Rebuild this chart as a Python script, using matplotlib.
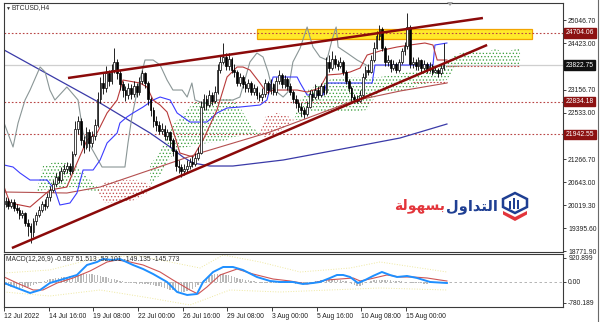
import numpy as np
import matplotlib.pyplot as plt
from matplotlib.patches import Rectangle, Polygon
from matplotlib.lines import Line2D

plt.rcParams['font.family'] = ['Liberation Sans', 'DejaVu Sans']
plt.rcParams['hatch.linewidth'] = 0.55

# ---- BTCUSD H4 candles (bar 0 = 12 Jul 2022 00:00, weekends skipped)
first_open = 20050
close = [20150, 20000, 20100, 19950, 19900, 19750, 19800, 19550, 19450, 19300,
         19600, 19750, 19900, 20050, 20000, 20250, 20450, 20600, 20800, 20700,
         20950, 21000, 21100, 20950, 21400, 22100, 22300, 21800, 21600, 22000,
         21700, 21900, 22200, 22900, 23350, 23200, 23600, 23400, 23700, 23900,
         23600, 23300, 23150, 23000, 23200, 23050, 23250, 23100, 23400, 23600,
         23350, 22900, 22600, 22300, 22200, 22050, 22100, 21900, 22000, 21800,
         21500, 21100, 21050, 20950, 21000, 21100, 21200, 21150, 21300, 21450,
         22700, 22900, 22750, 23000, 22850, 23100, 23700, 23900, 24050, 23800,
         24000, 23700, 23650, 23350, 23500, 23300, 23200, 23350, 23100, 23200,
         23000, 22950, 23050, 23350, 23150, 23300, 23100, 23400, 23550, 23300,
         23450, 23250, 23100, 22900, 22800, 22700, 22600, 22500, 22700, 23050,
         22950, 23150, 23000, 23250, 23100, 23900, 23750, 24000, 23850, 23800,
         23900, 23650, 23400, 23200, 22950, 22900, 22850, 23000, 23500, 23700,
         23650, 23950, 24300, 24600, 24800, 24300, 23900, 23950, 23750, 23850,
         23700, 23900, 24200, 24350, 24850, 23850, 23900, 23800, 23950, 23750,
         23850, 23700, 23800, 23650, 23700, 23600, 23750, 23822.75]
high = [20250, 20220, 20200, 20180, 20050, 19980, 19900, 19850, 19650, 19550,
        19680, 19850, 20000, 20150, 20180, 20350, 20550, 20700, 20900, 20950,
        21050, 21150, 21200, 21180, 21500, 22300, 22450, 22400, 21900, 22150,
        22100, 22050, 22350, 23100, 23500, 23600, 23800, 23700, 23850, 24290,
        24000, 23700, 23400, 23250, 23350, 23300, 23400, 23350, 23500, 23700,
        23650, 23400, 22950, 22700, 22450, 22300, 22250, 22200, 22100, 22050,
        21850, 21550, 21250, 21150, 21150, 21250, 21300, 21350, 21450, 21600,
        22850, 23050, 23000, 23150, 23100, 23250, 23850, 24100, 24420, 24150,
        24150, 24050, 23850, 23700, 23600, 23550, 23400, 23450, 23400, 23300,
        23250, 23100, 23200, 23450, 23400, 23450, 23350, 23500, 23700, 23600,
        23550, 23500, 23350, 23150, 23000, 22900, 22800, 22700, 22850, 23150,
        23150, 23300, 23250, 23350, 23300, 24050, 24100, 24200, 24100, 23950,
        24050, 23950, 23700, 23450, 23250, 23050, 23000, 23150, 23600, 23800,
        23850, 24100, 24450, 24750, 24910, 24850, 24350, 24100, 24000, 23950,
        23900, 24000, 24300, 24450, 25240, 24900, 24050, 24000, 24050, 24000,
        23950, 23900, 23900, 23850, 23800, 23750, 23850, 24420]
low = [19980, 19930, 19950, 19880, 19800, 19650, 19680, 19450, 19200, 19000,
       19150, 19500, 19700, 19850, 19900, 19950, 20150, 20380, 20550, 20620,
       20650, 20880, 20900, 20850, 20900, 21350, 21950, 21650, 21450, 21550,
       21500, 21600, 21800, 22150, 22800, 23050, 23100, 23250, 23300, 23600,
       23450, 23150, 22950, 22850, 22900, 22900, 22950, 22950, 23000, 23300,
       23200, 22750, 22450, 22150, 22050, 21950, 21950, 21800, 21800, 21600,
       21350, 20950, 20900, 20790, 20850, 20900, 21000, 21050, 21100, 21250,
       21400, 22600, 22600, 22700, 22750, 22800, 23050, 23600, 23850, 23700,
       23700, 23600, 23500, 23250, 23250, 23200, 23100, 23100, 23000, 23000,
       22900, 22850, 22850, 22950, 23050, 23050, 23000, 23000, 23300, 23200,
       23200, 23150, 23000, 22800, 22650, 22550, 22450, 22400, 22450, 22650,
       22850, 22900, 22900, 22950, 23000, 23050, 23650, 23700, 23750, 23700,
       23750, 23550, 23300, 23100, 22850, 22800, 22800, 22820, 22950, 23450,
       23550, 23600, 23900, 24250, 24500, 24200, 23800, 23800, 23650, 23700,
       23600, 23650, 23850, 24100, 24250, 23750, 23750, 23700, 23700, 23650,
       23700, 23600, 23650, 23550, 23600, 23500, 23550, 23700]

# ---- indicator lines (bar index, price)
ma_x = [-0.5, 33.9, 51.8, 59.0, 63.6, 67.2, 73.3, 81.5, 99.5, 109.1, 128.2, 141.4, 158.2]
ma_y = [24233, 22796, 21982, 21603, 21331, 21169, 21087, 21087, 21250, 21385, 21657, 21847, 22226]

slow_x = [-0.5, 22.0, 33.9, 51.8, 69.7, 94.8, 124.6, 141.4, 158.2]
slow_y = [20382, 20355, 20518, 20979, 21440, 22009, 22850, 23121, 23338]

tenkan_x = [-0.5, 1.6, 8.8, 15.9, 22.0, 25.6, 29.2, 32.8, 36.4, 40.0,
            42.1, 48.2, 50.7, 52.9, 55.4, 57.9, 60.0, 62.5, 67.2, 70.8,
            75.8, 79.4, 83.0, 85.1, 87.6, 91.2, 93.7, 95.9, 104.5, 108.1,
            112.7, 115.2, 119.9, 123.5, 127.1, 129.6, 135.3, 140.3, 145.0, 150.3,
            153.2, 154.7, 158.2]
tenkan_y = [20518, 20084, 19975, 20436, 20518, 21169, 21792, 21982, 22525, 22877,
            23419, 23338, 23230, 22877, 22741, 22552, 22064, 21440, 21331, 21792,
            22606, 23501, 23772, 23772, 23691, 23338, 23067, 23148, 23148, 23094,
            23202, 23555, 23582, 23636, 23745, 24097, 24233, 24314, 24369, 24423,
            24369, 23962, 23962]

kijun_x = [-0.5, 2.7, 5.2, 8.8, 14.9, 17.7, 19.5, 23.1, 25.6, 27.8,
           31.4, 33.9, 36.4, 40.0, 41.0, 43.5, 45.7, 49.3, 52.9, 55.4,
           59.0, 61.5, 66.1, 72.2, 75.8, 79.4, 84.0, 91.2, 93.7, 95.9,
           104.5, 105.6, 108.1, 113.8, 115.2, 131.4, 132.4, 153.2, 153.9, 158.2]
kijun_y = [21114, 21060, 20897, 20707, 20707, 20436, 20030, 20084, 20355, 20979,
           20979, 21250, 21711, 21982, 22253, 22416, 22525, 22687, 22877, 22958,
           22877, 22525, 22280, 22280, 22525, 22660, 22687, 22741, 22877, 23501,
           23501, 23338, 23013, 23013, 23338, 23338, 23826, 23826, 24369, 24423]

chikou_x = [-0.5, 2.7, 4.5, 7.0, 8.8, 12.4, 14.2, 15.9, 17.7, 22.0,
            26.0, 27.8, 33.2, 34.6, 42.8, 43.9, 45.3, 47.5, 50.0, 52.9,
            55.4, 57.9, 60.0, 63.3, 65.1, 66.8, 67.9, 70.8, 75.8, 81.5,
            84.0, 87.6, 90.1, 92.3, 94.1, 95.5, 99.5, 101.2, 103.0, 105.6,
            108.1, 109.1, 110.2, 112.7, 115.2, 117.0, 118.5, 119.2, 122.4, 126.0,
            129.9]
chikou_y = [22253, 21603, 22253, 22877, 23148, 23772, 23636, 23148, 22877, 23230,
            22877, 21982, 21250, 21060, 21060, 21711, 22416, 23230, 23962, 23962,
            23826, 23419, 23148, 23148, 22958, 23338, 22877, 22796, 22877, 22877,
            22958, 23908, 24152, 24043, 23636, 23202, 22958, 23094, 23908, 24287,
            24857, 24586, 24314, 24043, 23962, 24504, 24857, 24314, 24152, 23962,
            23799]

# ---- ichimoku cloud pieces (bar, top, bottom)
cloud_green = [
    ([11.3, 13.4, 17.7, 21.3, 24.9, 28.5, 32.1, 33.9],
     [20436, 21087, 21196, 21169, 21114, 20843, 20572, 20436],
     [20382, 20436, 20463, 20491, 20518, 20436, 20409, 20382]),
    ([51.8, 55.4, 59.0, 61.5, 65.1, 67.2, 72.2, 75.8, 79.4, 81.5, 84.0, 86.6, 88.7, 91.2],
     [21114, 21467, 22118, 22335, 22606, 22796, 22823, 22877, 22931, 22877, 22687, 22335, 22118, 21982],
     [20572, 20843, 21304, 21521, 21603, 21630, 21711, 21738, 21792, 21874, 21901, 21928, 21955, 21955]),
    ([103.4, 105.6, 109.1, 112.7, 117.4, 123.5, 129.6, 131.7, 134.2, 138.9, 143.9,
      148.6, 153.2, 158.2, 161.1, 164.7, 168.3, 171.9, 175.4, 179.0, 184.4],
     [22335, 22877, 23202, 23284, 23474, 23501, 23474, 23501, 23501, 23555, 23636,
      23691, 23745, 23908, 24097, 24179, 24233, 24152, 24260, 24179, 24287],
     [22335, 22335, 22552, 22552, 22552, 22552, 22606, 22877, 23094, 23094, 23148,
      23284, 23365, 23419, 23772, 23799, 23799, 23799, 23799, 23799, 23799]),
]
cloud_red = [
    ([33.2, 35.7, 41.0, 46.4, 50.7, 52.5],
     [20436, 20653, 20707, 20707, 20626, 20491],
     [20382, 20084, 20084, 20165, 20355, 20491]),
    ([91.2, 93.0, 97.3, 102.0, 103.4],
     [21982, 22416, 22525, 22416, 22335],
     [21955, 21874, 21982, 22253, 22335]),
]
spanb_x = [[146.1, 158.2], [158.2, 184.4]]
spanb_y = [[23365, 23365], [23799, 23799]]

# ---- drawn objects
upper_trend_x = [22.4, 171.1]
upper_trend_y = [23474, 25101]
lower_trend_x = [2.3, 172.6]
lower_trend_y = [18863, 24369]
levels = [24704.06, 22834.18, 21942.55]
bid = 23822.75
zone_x = [90.1, 188.7]
zone_y = [24531, 24803]

price_ticks = [25046.70, 24423.00, 23156.70, 22533.00, 21266.70, 20643.00, 20019.30, 19395.60, 18771.90]
price_labels = ['25046.70', '24423.00', '23156.70', '22533.00', '21266.70', '20643.00', '20019.30', '19395.60', '18771.90']
marks = [24704.06, 23822.75, 22834.18, 21942.55]
mark_colors = ['#8c1212', '#101010', '#8c1212', '#8c1212']

date_pos = [-0.5, 15.5, 31.5, 47.5, 63.5, 79.5, 95.5, 111.5, 127.5, 143.5]
date_labels = ['12 Jul 2022', '14 Jul 16:00', '19 Jul 08:00', '22 Jul 00:00', '26 Jul 16:00',
               '29 Jul 08:00', '3 Aug 00:00', '5 Aug 16:00', '10 Aug 08:00', '15 Aug 00:00']

# ---- MACD panel
macd_hist = [-120, -150, -180, -200, -220, -230, -220, -200, -180, -150,
             -110, -70, -30, 10, 40, 70, 100, 120, 140, 150,
             170, 190, 200, 220, 240, 260, 280, 290, 300, 310,
             300, 290, 270, 250, 220, 200, 180, 150, 120, 100,
             80, 50, 20, 0, -20, -40, -50, -60, -60, -70,
             -80, -90, -100, -120, -140, -170, -200, -230, -260, -290,
             -320, -350, -370, -380, -370, -340, -300, -250, -180, -100,
             -20, 60, 140, 210, 260, 300, 320, 320, 300, 280,
             250, 220, 190, 160, 130, 100, 80, 60, 40, 20,
             0, -20, -30, -40, -50, -50, -50, -50, -40, -40,
             -30, -30, -40, -50, -60, -60, -50, -40, -30, -20,
             0, 20, 40, 60, 80, 90, 100, 100, 90, 80,
             60, 40, 20, 0, -60, -120, -160, -150, -100, -50,
             0, 30, 60, 80, 90, 90, 80, 70, 60, 50,
             40, 30, 20, 10, 0, -10, -20, -30, -40, -50,
             -60, -60, -50, -50, -40, -40, -30, -30]
macd_x = [-0.5, 4.1, 8.8, 12.4, 15.9, 22.0, 25.6, 29.2, 32.8, 34.9, 38.5, 41.0, 45.7, 49.3, 52.9,
          57.9, 61.5, 65.1, 68.6, 70.8, 74.4, 78.0, 81.5, 85.1, 90.1, 94.8, 98.4, 103.0, 106.6, 110.2,
          112.7, 116.3, 118.8, 121.0, 123.5, 126.3, 128.9, 131.7, 134.9, 137.8, 140.3, 143.9, 147.5, 152.2, 158.2]
macd_main = [-38, -227, -416, -302, -38, 151, 265, 643, 756, 869, 832, 869, 643, 491, 302,
             0, -378, -491, -454, 0, 378, 567, 567, 454, 189, 38, 0, 0, -76, -38,
             0, 151, 265, 265, 189, -38, 76, 227, 378, 265, 189, 227, 151, 0, -38]
signal_x = [-0.5, 4.1, 9.9, 13.4, 18.5, 24.2, 30.3, 36.4, 40.0, 44.6, 49.3, 55.4, 60.0, 66.1, 69.0,
            72.2, 76.9, 83.0, 88.7, 95.9, 102.0, 108.1, 115.2, 119.9, 124.6, 127.1, 130.6, 136.7, 141.4,
            146.1, 151.1, 155.7, 158.2]
signal_y = [189, -38, -302, -302, -38, 151, 416, 756, 832, 756, 643, 378, 76, -302, -454,
            -189, 265, 491, 302, 113, 38, -76, 76, 113, 151, 38, 113, 265, 189,
            189, 151, 76, 38]
band_up_x = [-0.5, 15.9, 33.9, 48.2, 59.0, 69.7, 78.0, 91.2, 105.6, 123.5, 134.2, 158.2]
band_up_y = [340, 454, 945, 983, 756, 529, 1021, 756, 378, 529, 756, 378]
band_lo_x = [-0.5, 15.9, 33.9, 51.8, 66.1, 80.4, 98.4, 116.3, 134.2, 158.2]
band_lo_y = [-378, -529, -302, -605, -869, -302, -378, -302, -227, -302]

W, H = 600, 322
fig = plt.figure(figsize=(W / 100, H / 100), dpi=100)


def fx(x):
    return x / W


def fy(y):
    return 1 - y / H


ax = fig.add_axes([fx(4), fy(252), (563 - 4) / W, (252 - 3) / H])
mac = fig.add_axes([fx(4), fy(307), (563 - 4) / W, (307 - 254) / H], sharex=ax)
ax.set_xlim(-0.54, 199.8)
ax.set_ylim(18755, 25508)
mac.set_ylim(-945, 1058)

for a in (ax, mac):
    for s in a.spines.values():
        s.set_color('#3a3a3a')
        s.set_linewidth(0.8)

# cloud
for xs, top, bot in cloud_green:
    ax.fill_between(xs, top, bot, facecolor='none', edgecolor='#3f9f3f', hatch='.....', linewidth=0, zorder=1)
for xs, top, bot in cloud_red:
    ax.fill_between(xs, top, bot, facecolor='none', edgecolor='#c05050', hatch='.....', linewidth=0, zorder=1)
for xs, ys in zip(spanb_x, spanb_y):
    ax.plot(xs, ys, color='#c0504d', lw=0.8, ls=(0, (1.5, 1.5)), zorder=1.2)

# levels, bid line, zone
ax.axhline(bid, color='#cfcfcf', lw=0.9, zorder=1.1)
ax.add_patch(Rectangle((zone_x[0], zone_y[0]), zone_x[1] - zone_x[0], zone_y[1] - zone_y[0],
                       facecolor='#ffe92a', edgecolor='#f2a400', lw=0.9, zorder=1.5))
for lv in levels:
    ax.axhline(lv, color='#b84444', lw=0.8, ls=(0, (1.5, 1.8)), zorder=1.8)

# indicator lines
ax.plot(ma_x, ma_y, color='#3a3aa8', lw=0.9, zorder=2)
ax.plot(slow_x, slow_y, color='#b45050', lw=0.8, zorder=2)
ax.plot(chikou_x, chikou_y, color='#8a9696', lw=0.8, zorder=2)
ax.plot(kijun_x, kijun_y, color='#3c3cff', lw=0.8, zorder=2.1)
ax.plot(tenkan_x, tenkan_y, color='#b83a3a', lw=0.8, zorder=2.1)

# candles
idx = np.arange(len(close))
cl = np.array(close)
op = np.array([first_open] + close[:-1])
up = cl >= op
lo_b = np.minimum(op, cl)
ht_b = np.maximum(np.abs(cl - op), 8)
ax.vlines(idx, low, high, color='black', lw=0.6, zorder=3)
ax.bar(idx[up], ht_b[up], bottom=lo_b[up], width=0.62, facecolor='white', edgecolor='black', lw=0.5, zorder=3.1)
ax.bar(idx[~up], ht_b[~up], bottom=lo_b[~up], width=0.62, facecolor='black', edgecolor='black', lw=0.5, zorder=3.1)

# trend lines
ax.plot(upper_trend_x, upper_trend_y, color='#8b0a0a', lw=1.8, zorder=4, solid_capstyle='butt')
ax.plot(lower_trend_x, lower_trend_y, color='#8b0a0a', lw=1.8, zorder=4, solid_capstyle='butt')

# price axis
lab = 4.9
ax.yaxis.tick_right()
ax.set_yticks(price_ticks)
ax.set_yticklabels(price_labels)
ax.tick_params(axis='y', labelsize=lab, length=2.5, width=0.6, pad=1.2, colors='#202020')
ax.tick_params(axis='x', bottom=False, labelbottom=False)
ytr = ax.get_yaxis_transform()
for v, c in zip(marks, mark_colors):
    ax.text(1.005, v, f'{v:.2f}', transform=ytr, fontsize=lab, color='white', va='center', ha='left',
            bbox=dict(boxstyle='square,pad=0.2', facecolor=c, edgecolor=c), zorder=6, clip_on=False)

# MACD
mac.bar(idx, macd_hist, width=0.5, color='#b9b9b9', zorder=1)
mac.axhline(0, color='#a8a8a8', lw=0.6, ls=(0, (3, 3)), zorder=0.5)
mac.plot(band_up_x, band_up_y, color='#eee8a0', lw=0.7, ls=':', zorder=1.2)
mac.plot(band_lo_x, band_lo_y, color='#eee8a0', lw=0.7, ls=':', zorder=1.2)
mac.plot(signal_x, signal_y, color='#cd5555', lw=0.8, zorder=2)
mac.plot(macd_x, macd_main, color='#1e8fff', lw=1.4, zorder=2.1)
mac.yaxis.tick_right()
mac.set_yticks([920.899, 0.0, -780.189])
mac.set_yticklabels(['920.899', '0.00', '-780.189'])
mac.tick_params(axis='y', labelsize=lab, length=2.5, width=0.6, pad=1.2, colors='#202020')
mac.set_xticks(date_pos)
mac.set_xticklabels(date_labels, ha='left')
mac.tick_params(axis='x', labelsize=lab, length=3, width=0.6, pad=1.5, colors='#202020')
mac.text(0.004, 0.9, 'MACD(12,26,9) -0.587 51.513 -52.101 -149.135 -145.773', transform=mac.transAxes,
         fontsize=lab, color='#303030', va='center', ha='left')

# header
fig.text(fx(6), fy(8), '\u25bc', fontsize=3.6, color='#303030', va='center', ha='left')
fig.text(fx(12), fy(8), 'BTCUSD,H4', fontsize=lab, color='#303030', va='center', ha='left')
fig.patches.append(Polygon([(fx(447), fy(2)), (fx(453), fy(2)), (fx(450), fy(6))], closed=True,
                           transform=fig.transFigure, facecolor='#a0a0a0', edgecolor='none'))
fig.lines.append(Line2D([fx(597.5), fx(597.5)], [0, 1], transform=fig.transFigure, color='#6a6a6a', lw=0.8))

# logo
blue = '#1f3f93'
red = '#e3353b'
fig.text(fx(498), fy(206), '\ufedd\ufeed\ufe8d\ufeaa\ufe98\ufedf\ufe8d', fontsize=10.5, fontweight='bold',
         color=blue, ha='right', va='center', family=['DejaVu Sans'])
fig.text(fx(445), fy(206), '\ufe94\ufedf\ufeee\ufeec\ufeb4\ufe91', fontsize=10, fontweight='bold',
         color=red, ha='right', va='center', family=['DejaVu Sans'])
hexagon = [(503, 199), (515, 193), (527, 199), (527, 207), (515, 213), (503, 207)]
fig.patches.append(Polygon([(fx(a), fy(b)) for a, b in hexagon], closed=True, transform=fig.transFigure,
                           facecolor='none', edgecolor=blue, lw=1.8))
for bx, top in [(508.5, 201), (512.5, 198), (516.5, 200)]:
    fig.patches.append(Rectangle((fx(bx), fy(209)), 2.6 / W, (209 - top) / H, transform=fig.transFigure,
                                 facecolor=blue, edgecolor='none'))
chev = [(503, 211), (515, 217), (527, 211), (527, 214.5), (515, 221), (503, 214.5)]
fig.patches.append(Polygon([(fx(a), fy(b)) for a, b in chev], closed=True, transform=fig.transFigure,
                           facecolor=red, edgecolor='none'))

fig.savefig('out.png', dpi=100, facecolor='white')
